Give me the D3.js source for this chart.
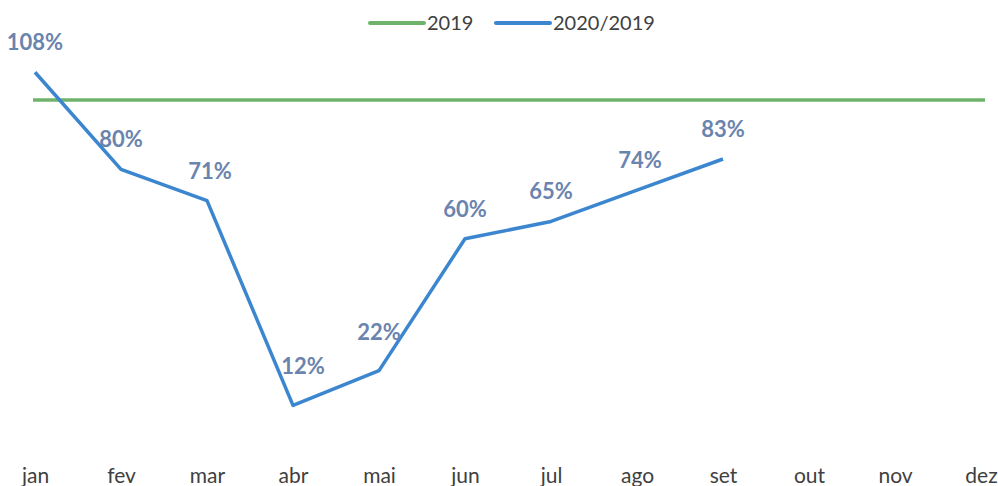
<!DOCTYPE html>
<html><head><meta charset="utf-8">
<script src="https://cdn.jsdelivr.net/npm/d3@7"></script>
<style>body{margin:0;background:#fff;overflow:hidden;} svg{display:block;}</style>
</head><body>
<svg id="c" width="998" height="486"></svg>
<script>
const months = ["jan","fev","mar","abr","mai","jun","jul","ago","set","out","nov","dez"];
const base2019 = [100,100,100,100,100,100,100,100,100,100,100,100];
const ratio = [108,80,71,12,22,60,65,74,83];
const labels = ["108%","80%","71%","12%","22%","60%","65%","74%","83%"];

const svg = d3.select("#c");
const x = d3.scalePoint().domain(months).range([35,981]);
const y = d3.scaleLinear().domain([0,100]).range([447,100]);
const font = "Lato, 'Open Sans', sans-serif";

const xAxis = d3.axisBottom(x).tickSize(0).tickPadding(0);
const gx = svg.append("g").attr("transform","translate(0,483)").call(xAxis);
gx.select(".domain").remove();
gx.selectAll("text").attr("font-family",font).attr("font-size",21).attr("fill","#404040").attr("dy","0");

const line = d3.line().x((d,i)=>x(months[i])).y(d=>y(d));
svg.append("path").datum(base2019).attr("d",d3.line().x((d,i)=>x(months[i])+(i==0?-2:(i==11?4:0))).y(d=>y(d)))
  .attr("fill","none").attr("stroke","#6fb36b").attr("stroke-width",3.5);
svg.append("path").datum(ratio).attr("d",line)
  .attr("fill","none").attr("stroke","#3b86cf").attr("stroke-width",3.5).attr("stroke-linejoin","round");

svg.append("g").selectAll("text").data(ratio).join("text")
  .attr("x",(d,i)=>x(months[i])+(i==3?10:(i==2||i==7?3:0)))
  .attr("y",(d,i)=>y(d)-(i==3||i==4?31:22))
  .attr("text-anchor","middle").attr("font-family",font).attr("font-weight","bold")
  .attr("font-size",22).attr("fill","#6a84ae").text((d,i)=>labels[i]);

const leg = [{name:"2019",c:"#6fb36b",x:370},{name:"2020/2019",c:"#3b86cf",x:496}];
const lg = svg.append("g");
leg.forEach(l=>{
  lg.append("line").attr("x1",l.x).attr("x2",l.x+54).attr("y1",23).attr("y2",23)
    .attr("stroke",l.c).attr("stroke-width",4).attr("stroke-linecap","round");
  lg.append("text").attr("x",l.x+57).attr("y",30).attr("font-family",font).attr("font-size",20)
    .attr("fill","#404040").text(l.name);
});
</script>
</body></html>
